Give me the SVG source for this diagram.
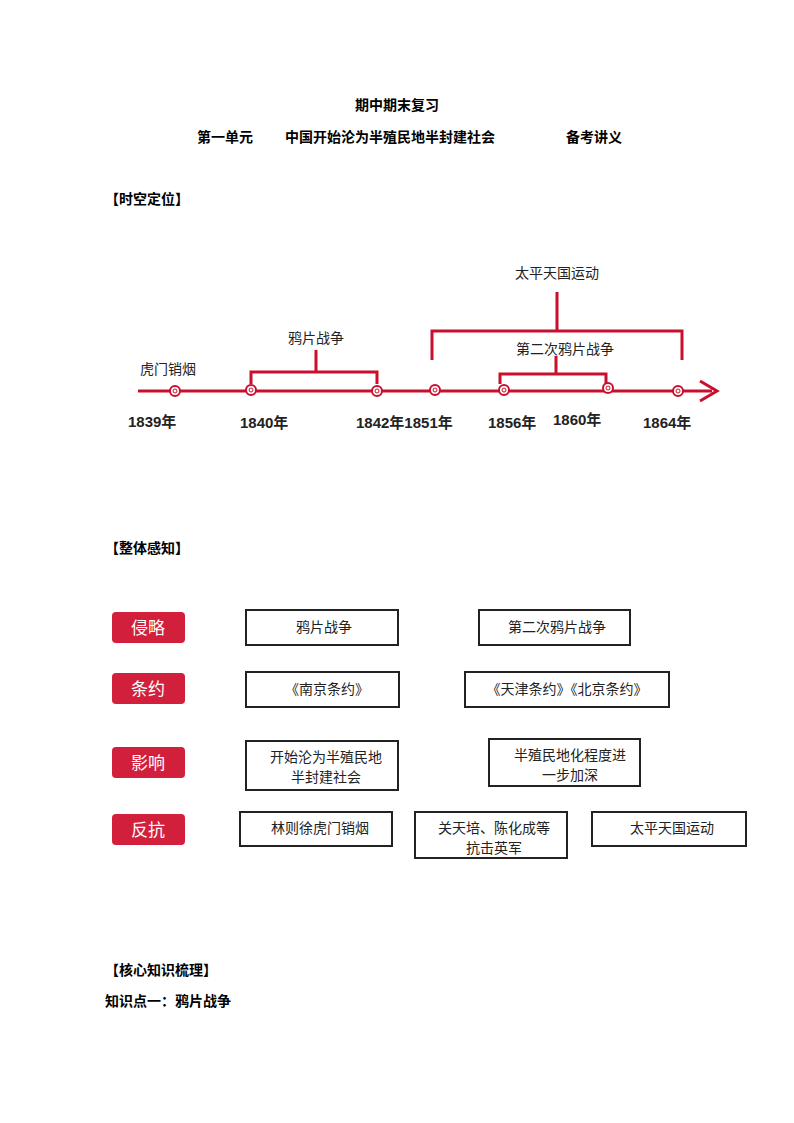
<svg xmlns="http://www.w3.org/2000/svg" width="794" height="1123" viewBox="0 0 794 1123">
<style>
.h{font-family:"Noto Sans CJK SC","Liberation Serif",serif;font-weight:bold;font-size:14px;fill:#000}
.t{font-family:"Noto Sans CJK SC",sans-serif;font-size:14px;fill:#222}
.y{font-family:"Liberation Sans","Noto Sans CJK SC",sans-serif;font-size:15px;fill:#222;font-weight:bold}
.r{fill:none;stroke:#c8102e;stroke-width:3}
.c{fill:#fff;stroke:#c8102e;stroke-width:2}
.lab{fill:#d21f3c}
.lt{font-family:"Noto Sans CJK SC",serif;font-size:17px;fill:#fff;text-anchor:middle}
.bx{fill:#fff;stroke:#222;stroke-width:2}
.bt{font-family:"Noto Sans CJK SC",sans-serif;font-size:14px;fill:#222;text-anchor:middle}
</style>
<rect width="794" height="1123" fill="#fff"/>
<text class="h" x="397" y="110" text-anchor="middle">期中期末复习</text>
<text class="h" x="197" y="142">第一单元</text>
<text class="h" x="285" y="142">中国开始沦为半殖民地半封建社会</text>
<text class="h" x="566" y="142">备考讲义</text>
<text class="h" x="105" y="204">【时空定位】</text>
<text class="h" x="105" y="553">【整体感知】</text>
<text class="h" x="105" y="975">【核心知识梳理】</text>
<text class="h" x="105" y="1006">知识点一：鸦片战争</text>

<g id="connectors">
<line class="r" x1="138" y1="391" x2="712" y2="391"/>
<path d="M700 381 L717 391 L700 401" class="r"/>
<path class="r" d="M251 384 V372 H377 V384 M316 372 V350"/>
<path class="r" d="M432 360 V331 H682 V360 M557 331 V292"/>
<path class="r" d="M500 384 V374 H606 V384 M556 374 V356"/>
</g>
<g id="timeline-points">
<circle class="c" cx="175" cy="391" r="5"/><circle cx="175" cy="391" r="2" fill="none" stroke="#c8102e"/>
<circle class="c" cx="251" cy="390" r="5"/><circle cx="251" cy="390" r="2" fill="none" stroke="#c8102e"/>
<circle class="c" cx="377" cy="391" r="5"/><circle cx="377" cy="391" r="2" fill="none" stroke="#c8102e"/>
<circle class="c" cx="435" cy="390" r="5"/><circle cx="435" cy="390" r="2" fill="none" stroke="#c8102e"/>
<circle class="c" cx="504" cy="390" r="5"/><circle cx="504" cy="390" r="2" fill="none" stroke="#c8102e"/>
<circle class="c" cx="608" cy="388" r="5"/><circle cx="608" cy="388" r="2" fill="none" stroke="#c8102e"/>
<circle class="c" cx="678" cy="391" r="5"/><circle cx="678" cy="391" r="2" fill="none" stroke="#c8102e"/>
</g>
<g id="timeline-labels">
<text class="t" x="140" y="374">虎门销烟</text>
<text class="t" x="316" y="343" text-anchor="middle">鸦片战争</text>
<text class="t" x="557" y="278" text-anchor="middle">太平天国运动</text>
<text class="t" x="565" y="354" text-anchor="middle">第二次鸦片战争</text>
<text class="y" x="128" y="427">1839年</text>
<text class="y" x="240" y="428">1840年</text>
<text class="y" x="356" y="428">1842年1851年</text>
<text class="y" x="488" y="428">1856年</text>
<text class="y" x="553" y="425">1860年</text>
<text class="y" x="643" y="428">1864年</text>
</g>
<g id="label-qinlue"><rect class="lab" x="112" y="612" width="73" height="31" rx="4"/><text class="lt" x="148" y="634">侵略</text></g>
<g id="label-tiaoyue"><rect class="lab" x="112" y="673" width="73" height="31" rx="4"/><text class="lt" x="148" y="695">条约</text></g>
<g id="label-yingxiang"><rect class="lab" x="112" y="747" width="73" height="31" rx="4"/><text class="lt" x="148" y="769">影响</text></g>
<g id="label-fankang"><rect class="lab" x="112" y="814" width="73" height="31" rx="4"/><text class="lt" x="148" y="836">反抗</text></g>

<g id="box1"><rect class="bx" x="246" y="610" width="152" height="35"/><text class="bt" x="324" y="632">鸦片战争</text></g>
<g id="box2"><rect class="bx" x="479" y="610" width="151" height="35"/><text class="bt" x="557" y="632">第二次鸦片战争</text></g>
<g id="box3"><rect class="bx" x="246" y="672" width="153" height="35"/><text class="bt" x="327" y="694">《南京条约》</text></g>
<g id="box4"><rect class="bx" x="465" y="672" width="204" height="35"/><text class="bt" x="567" y="694">《天津条约》《北京条约》</text></g>
<g id="box5"><rect class="bx" x="246" y="741" width="152" height="49"/><text class="bt" x="326" y="762">开始沦为半殖民地</text><text class="bt" x="326" y="782">半封建社会</text></g>
<g id="box6"><rect class="bx" x="489" y="739" width="151" height="47"/><text class="bt" x="570" y="760">半殖民地化程度进</text><text class="bt" x="570" y="780">一步加深</text></g>
<g id="box7"><rect class="bx" x="240" y="812" width="152" height="34"/><text class="bt" x="320" y="833">林则徐虎门销烟</text></g>
<g id="box8"><rect class="bx" x="415" y="812" width="152" height="46"/><text class="bt" x="494" y="833">关天培、陈化成等</text><text class="bt" x="494" y="853">抗击英军</text></g>
<g id="box9"><rect class="bx" x="592" y="812" width="154" height="34"/><text class="bt" x="672" y="833">太平天国运动</text></g>
</svg>
